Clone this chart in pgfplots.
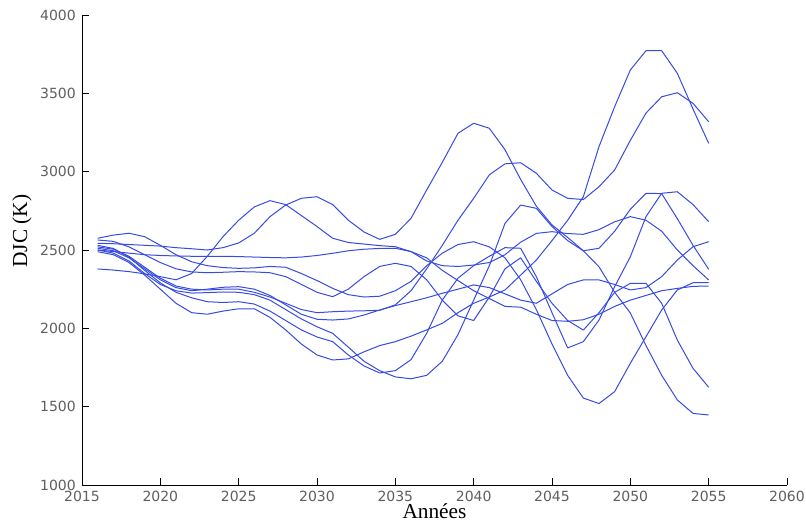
\documentclass[border=0pt]{standalone}
\usepackage{fontspec}
\setmainfont{Liberation Serif}
\newfontfamily\tickfont{DejaVu Sans}
\usepackage{pgfplots}
\usepackage{pgfplotstable}
\pgfplotsset{compat=1.18}
\definecolor{lineblue}{RGB}{55,75,225}
\definecolor{tickgray}{RGB}{95,95,95}
\pgfplotstableread{
year A B C D E E2 H P G F
2016 2543 2379 2500 2575 2564 2520 2511 2500 2530 2489
2017 2540 2372 2490 2595 2555 2505 2495 2480 2510 2470
2018 2535 2362 2480 2607 2520 2460 2450 2430 2455 2420
2019 2530 2348 2470 2585 2470 2390 2380 2350 2370 2340
2020 2525 2330 2465 2530 2420 2320 2310 2280 2290 2250
2021 2515 2310 2462 2470 2380 2270 2260 2240 2230 2160
2022 2508 2350 2460 2425 2360 2250 2240 2225 2195 2100
2023 2500 2460 2460 2400 2355 2245 2250 2228 2170 2090
2024 2515 2585 2460 2388 2358 2250 2262 2232 2165 2110
2025 2545 2690 2458 2383 2362 2250 2266 2230 2170 2125
2026 2607 2775 2455 2386 2360 2230 2250 2215 2155 2125
2027 2713 2815 2452 2395 2355 2200 2210 2180 2110 2070
2028 2787 2790 2450 2390 2330 2160 2150 2120 2050 1990
2029 2830 2720 2455 2350 2280 2120 2090 2060 1990 1900
2030 2840 2650 2465 2305 2230 2100 2058 2010 1945 1830
2031 2790 2575 2479 2255 2202 2106 2053 1968 1915 1798
2032 2690 2548 2495 2215 2250 2110 2060 1880 1830 1805
2033 2615 2538 2505 2200 2330 2112 2085 1790 1760 1850
2034 2568 2528 2510 2205 2395 2115 2117 1730 1715 1890
2035 2600 2521 2511 2240 2415 2150 2145 1690 1730 1915
2036 2702 2490 2490 2300 2395 2240 2170 1678 1800 1950
2037 2883 2430 2450 2400 2310 2380 2195 1700 1968 1990
2038 3060 2400 2370 2480 2180 2530 2224 1790 2181 2032
2039 3245 2395 2305 2535 2080 2690 2250 1960 2320 2100
2040 3309 2404 2240 2553 2050 2830 2277 2180 2400 2160
2041 3277 2420 2190 2520 2200 2980 2260 2400 2460 2200
2042 3140 2470 2140 2450 2380 3050 2220 2670 2515 2245
2043 2950 2550 2135 2310 2450 3057 2180 2787 2511 2340
2044 2780 2606 2090 2120 2300 2990 2160 2766 2330 2436
2045 2660 2617 2050 1900 2160 2883 2220 2650 2100 2560
2046 2580 2605 2045 1700 2050 2830 2280 2560 1875 2690
2047 2495 2600 2055 1555 1989 2822 2309 2495 1915 2840
2048 2393 2630 2090 1520 2100 2904 2309 2511 2053 3160
2049 2230 2680 2140 1596 2230 3011 2280 2620 2266 3415
2050 2098 2713 2180 1777 2287 3200 2245 2760 2457 3649
2051 1890 2690 2210 1947 2287 3374 2260 2862 2713 3772
2052 1700 2620 2240 2117 2160 3478 2330 2860 2862 3772
2053 1543 2500 2255 2245 1925 3504 2436 2700 2872 3628
2054 1457 2400 2268 2291 1745 3436 2521 2530 2790 3400
2055 1447 2309 2270 2291 1624 3319 2553 2377 2681 3181
}\djc
\begin{document}
\begin{tikzpicture}
\begin{axis}[
  at={(0,0)}, anchor=south west,
  scale only axis, width=528.75pt, height=352.5pt,
  xmin=2015, xmax=2060, ymin=1000, ymax=4000,
  axis x line*=bottom, axis y line*=left,
  axis line style={black, line width=0.7pt},
  xtick={2015,2020,...,2060}, ytick={1000,1500,...,4000},
  tick align=inside, major tick length=5pt,
  tick style={black, line width=0.7pt},
  ticklabel style={font=\tickfont\fontsize{10.5}{12}\selectfont, text=tickgray},
  /pgf/number format/assume math mode=true,
  /pgf/number format/1000 sep={},
  xticklabel style={anchor=north, inner sep=0pt, yshift=-4.5pt},
  yticklabel style={anchor=east, inner sep=0pt, xshift=-4.5pt},
  xlabel={Années}, ylabel={DJC (K)},
  label style={font=\fontsize{16}{18}\selectfont, inner sep=0pt},
  xlabel style={at={(axis description cs:0.5,-0.04)}, anchor=north},
  ylabel style={at={(axis description cs:-0.071,0.54)}, anchor=south},
]
\addplot[lineblue, line width=0.75pt, line join=round] table[x=year, y=A] {\djc};
\addplot[lineblue, line width=0.75pt, line join=round] table[x=year, y=B] {\djc};
\addplot[lineblue, line width=0.75pt, line join=round] table[x=year, y=C] {\djc};
\addplot[lineblue, line width=0.75pt, line join=round] table[x=year, y=D] {\djc};
\addplot[lineblue, line width=0.75pt, line join=round] table[x=year, y=E] {\djc};
\addplot[lineblue, line width=0.75pt, line join=round] table[x=year, y=E2] {\djc};
\addplot[lineblue, line width=0.75pt, line join=round] table[x=year, y=H] {\djc};
\addplot[lineblue, line width=0.75pt, line join=round] table[x=year, y=P] {\djc};
\addplot[lineblue, line width=0.75pt, line join=round] table[x=year, y=G] {\djc};
\addplot[lineblue, line width=0.75pt, line join=round] table[x=year, y=F] {\djc};
\end{axis}
\pgfresetboundingbox
\path[use as bounding box] (-61.5pt,-30.75pt) rectangle (543pt,363.75pt);
\end{tikzpicture}
\end{document}
